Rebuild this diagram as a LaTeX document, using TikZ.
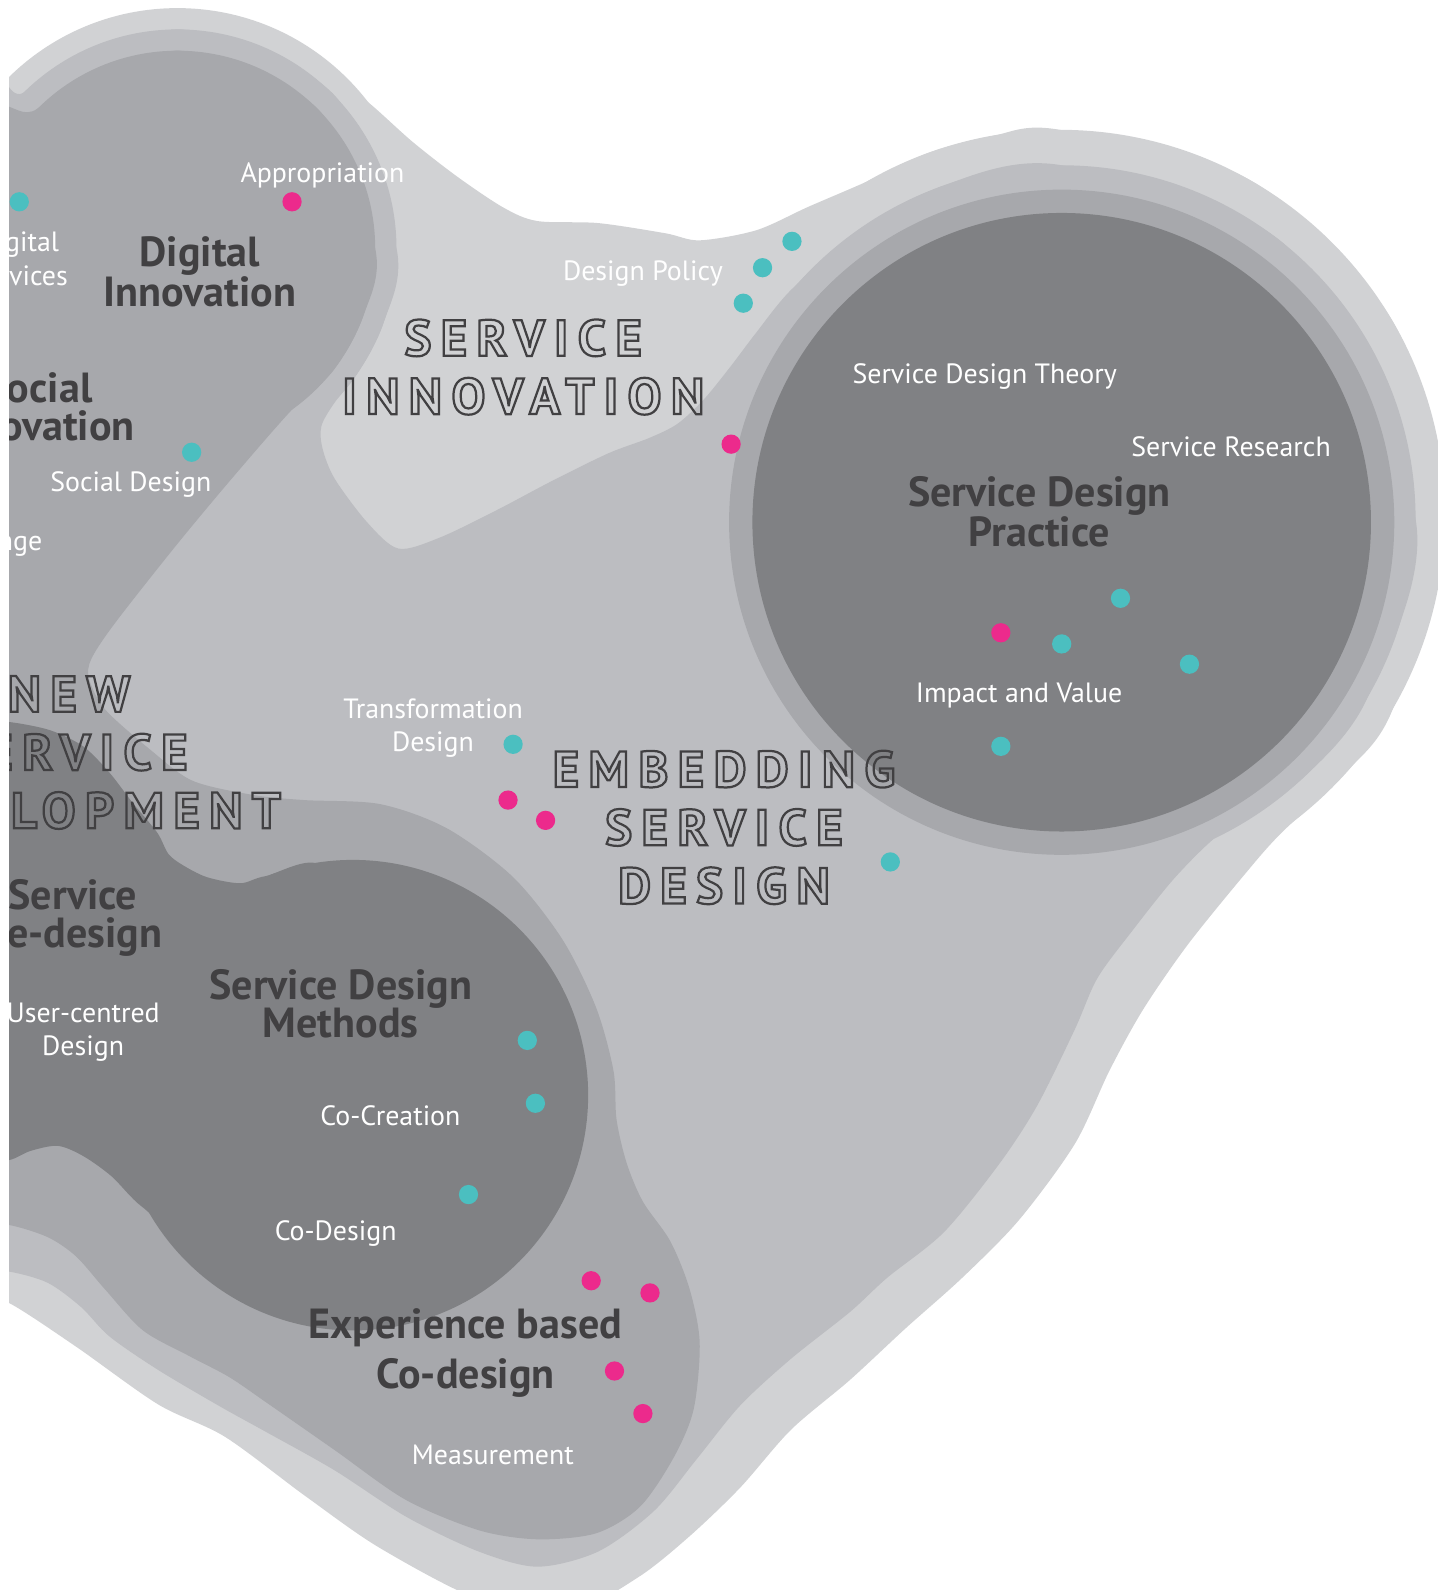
\documentclass[tikz,border=0pt]{standalone}
\usepackage{fontspec}
\setmainfont{PT Sans}
\newfontfamily\outlinefont[LetterSpace=18.5]{PT Sans}
\usetikzlibrary{positioning}
\definecolor{ringlight}{HTML}{D1D2D4}
\definecolor{ringmid}{HTML}{BCBDC1}
\definecolor{ringdark}{HTML}{A7A8AC}
\definecolor{corefill}{HTML}{808184}
\definecolor{titlegray}{HTML}{414042}
\definecolor{dotcyan}{HTML}{4BBFC0}
\definecolor{dotpink}{HTML}{EC2A8C}
% hollow (stroked) letters
\newcommand\hollow[1]{\special{pdf:literal direct 1 Tr 2.2 w}#1\special{pdf:literal direct 0 Tr}}

\begin{document}
\begin{tikzpicture}[x=1pt,y=-1pt,
  cyandot/.style={circle,fill=dotcyan,minimum size=19,inner sep=0},
  pinkdot/.style={circle,fill=dotpink,minimum size=19,inner sep=0},
  label/.style={text=white,font=\fontsize{27.5}{33}\selectfont,align=center,inner sep=0},
  title/.style={text=titlegray,font=\bfseries\fontsize{41.5}{38}\selectfont,align=center,inner sep=0},
  field/.style={text=titlegray,font=\outlinefont\bfseries\fontsize{50}{57.5}\selectfont,align=center,inner sep=0}]
\useasboundingbox (0,0) rectangle (1418,1568);

\begin{scope}
\clip (9,0) rectangle (1418,1568);

%light layer
\fill[ringlight] (175,245) circle [radius=237];
\fill[ringlight] (1045,508) circle [radius=380];
\fill[ringlight] plot[smooth cycle] coordinates {(250,150) (330,80) (362,100) (407,140)
  (452,175) (497,205) (530,218) (590,220) (656,230) (690,237) (746,227) (797,204)
  (855,179) (915,151) (979,134) (1045,128) (1235,179) (1374,318) (1425,508) (1374,698)
  (1327,762) (1263,822) (1226,864) (1171,932) (1127,996)
  (1094,1056) (1060,1128) (1005,1203) (949,1260) (893,1310) (838,1361) (780,1410)
  (730,1467) (680,1515) (630,1555) (570,1585) (480,1580) (377,1528) (302,1476)
  (222,1417) (156,1385) (75,1328) (9,1285) (-20,1280) (-20,400) (100,300)};

%middle layer
\fill[ringmid] (175,245) circle [radius=216];
\fill[ringmid] (1047,512) circle [radius=349];
\fill[ringmid] plot[smooth cycle] coordinates {(-20,120) (22,92) (175,29) (328,92)
  (391,245) (378,319) (352,369) (330,397) (317,420) (318,442) (330,472) (362,515)
  (393,541) (434,530) (490,503) (543,475) (600,447) (640,432)
  (668,418) (694,394) (720,362) (745,329) (780,286) (838,237) (928,184) (1047,163)
  (1271,245) (1396,512) (1349,687) (1285,767) (1208,818) (1160,864) (1115,920)
  (1082,965) (1060,1015) (1023,1090)
  (986,1147) (931,1215) (875,1260) (838,1294) (780,1340) (730,1386) (687,1439)
  (645,1490) (590,1530) (530,1545) (472,1530) (401,1496) (330,1450) (264,1413)
  (217,1387) (156,1351) (108,1318) (80,1289) (47,1265) (9,1254) (-20,1254)};

%darker layer
\fill[ringdark] (175,245) circle [radius=195];
\fill[ringdark] (1047,515) circle [radius=328];
\fill[ringdark] plot[smooth cycle] coordinates {(37,107) (175,50) (313,107) (370,245)
  (358,312) (329,365) (287,405) (226,475) (172,540) (113,615) (90,650) (88,670)
  (104,700) (149,740) (190,770) (250,784) (300,789) (375,793) (441,817) (506,865)
  (555,927) (588,994) (605,1056) (608,1104) (618,1147) (634,1185) (661,1224)
  (680,1271) (690,1324) (684,1390) (664,1438) (631,1486) (588,1512) (530,1518)
  (472,1509) (400,1479) (330,1430) (264,1384) (226,1358) (188,1338) (141,1312)
  (104,1272) (75,1239) (47,1220) (9,1208) (-20,1208) (-20,200)};

%core layer
\fill[corefill] (1047,515) circle [radius=305];
\fill[corefill] (348,1080) circle [radius=232];
\fill[corefill] plot[smooth cycle] coordinates {(-20,712) (9,712) (49,720) (82,736)
  (108,762) (131,792) (155,821) (166,842) (180,853) (204,865) (237,871) (262,864)
  (320,858) (330,1000) (250,1150) (190,1220) (140,1190) (110,1160) (82,1140)
  (57,1130) (30,1135) (9,1144) (-20,1144)};

%dots
\foreach \x/\y [count=\n] in {19/199,781/238,752/264,733/299,189/446,1105/590,
    1047/635,1173/655,987/736,506/734,878/850,520/1026,528/1088,462/1178}
  \node[cyandot] (cyan\n) at (\x,\y) {};
\foreach \x/\y [count=\n] in {288/199,721/438,987/624,501/789,538/809,
    583/1263,641/1275,606/1352,634/1394}
  \node[pinkdot] (pink\n) at (\x,\y) {};

%fields
\node[field] (serviceinnovation) at (516,362) {\hollow{SERVICE\\INNOVATION}};
\node[field] (embedding) at (714,816) {\hollow{EMBEDDING\\SERVICE\\DESIGN}};
\node[field] (newservice) at (68,742) {\hollow{NEW\\SERVICE\\DEVELOPMENT}};

%titles
\node[title] (digitalinnovation) at (197,268) {Digital\\Innovation};
\node[title] (socialinnovation) at (38,401) {Social\\Innovation};
\node[title] (sdpractice) at (1025,505) {Service Design\\Practice};
\node[title] (redesign) at (72,905) {Service\\Re-design};
\node[title] (sdmethods) at (336,990) {Service Design\\Methods};
\node[title,font=\bfseries\fontsize{41.5}{49}\selectfont] (ebcd) at (459,1334) {Experience based\\Co-design};

%labels
\node[label] (appropriation) at (318,173) {Appropriation};
\node[label] (digitalservices) at (19,255) {Digital\\Services};
\node[label] (socialdesign) at (129,478) {Social Design};
\node[label,anchor=east] (change) at (42,536) {Change};
\node[label] (designpolicy) at (634,270) {Design Policy};
\node[label] (sdtheory) at (971,371) {Service Design Theory};
\node[label] (research) at (1214,441) {Service Research};
\node[label] (impact) at (1005,686) {Impact and Value};
\node[label] (transformation) at (427,718) {Transformation\\Design};
\node[label] (usercentred) at (82,1018) {User-centred\\Design};
\node[label] (cocreation) at (385,1100) {Co-Creation};
\node[label] (codesign) at (331,1216) {Co-Design};
\node[label] (measurement) at (486,1435) {Measurement};
\end{scope}
\end{tikzpicture}
\end{document}
